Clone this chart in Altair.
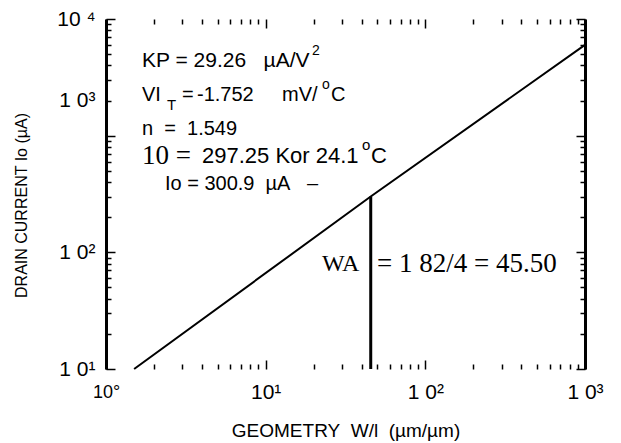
import altair as alt
import pandas as pd

NB = "\u00a0"  # non-breaking space (SVG collapses ordinary runs of spaces)

# ---------------- data ----------------
geometry = [1.5, 45.5, 1000]            # W/L (µm/µm)
drain_current = [10, 300.9, 6000]       # Io (µA)

marker_geometry = [45.5]
marker_current_low = [10]
marker_current_high = [300.9]

x_major = [1, 10, 100, 1000]
x_major_labels = ["10°", "10¹", "1 0²", "1 0³"]
y_major = [10, 100, 1000, 10000]
y_major_labels = ["1 0¹", "1 0²", "1 0³", "10 ⁴"]
x_minor = [1, 2, 3, 4, 5, 6, 7, 8, 9, 10, 20, 30, 40, 50, 60, 70, 80, 90,
           100, 200, 300, 400, 500, 600, 700, 800, 900, 1000]
y_minor = [10, 20, 30, 40, 50, 60, 70, 80, 90, 100, 200, 300, 400, 500, 600,
           700, 800, 900, 1000, 2000, 3000, 4000, 5000, 6000, 7000, 8000,
           9000, 10000]

x_title = f"GEOMETRY{NB}{NB}W/l{NB}{NB}(µm/µm)"
y_title = "DRAIN CURRENT Io (µA)"

ann_text = [f"KP = 29.26{NB}{NB}{NB}µA/V", "2",
            "VI", "T", "=", "-1.752", "mV/", "o", "C",
            f"n{NB}{NB}={NB}{NB}1.549",
            "10 =", "297.25 Kor 24.1", "o", "C",
            f"Io = 300.9{NB}{NB}µA{NB}{NB}{NB}–",
            "WA", "= 1 82/4 = 45.50"]
# anchor of each annotation in data coordinates (W/L, µA)
ann_x = [1.68, 1.68,
         1.68, 1.68, 1.68, 1.68, 1.68, 1.68, 1.68,
         1.68,
         1.68, 1.68, 1.68, 1.68,
         2.34,
         22.5, 49.8]
ann_y = [4365, 4365,
         2233, 2233, 2233, 2233, 2233, 2233, 2233,
         1140,
         670, 670, 670, 670,
         385,
         79.4, 79.4]

# ---------------- styling of annotation pieces ----------------
SANS = "Liberation Sans"
SERIF = "Liberation Serif"
ann_style = [  # (dx, dy, size, font)
    (0, 0, 21, SANS), (170, -10, 14, SANS),
    (0, 0, 20, SANS), (25, 10, 15, SANS), (40, 0, 20, SANS), (55, 0, 20, SANS),
    (140, 0, 20, SANS), (180, -10, 14, SANS), (189, 0, 20, SANS),
    (0, 0, 20, SANS),
    (0, 0, 27, SERIF), (60, 0, 22, SANS), (220, -11, 15, SANS), (229, 0, 22, SANS),
    (0, 0, 20, SANS),
    (0, 0, 24, SERIF), (0, 0, 27, SERIF),
]

W, H = 479, 350

xs = alt.Scale(type="log", domain=[1, 1000], nice=False)
ys = alt.Scale(type="log", domain=[10, 10000], nice=False)


def label_expr(values, labels):
    expr = "''"
    for v, l in reversed(list(zip(values, labels))):
        expr = f"datum.value == {v} ? '{l}' : ({expr})"
    return expr


def major_test(values):
    return "indexof([" + ",".join(str(v) for v in values) + "], datum.value) >= 0"


tick_x = {"condition": {"test": major_test(x_major), "value": 9}, "value": 5}
tick_y = {"condition": {"test": major_test(y_major), "value": 9}, "value": 5}

line_df = pd.DataFrame({"x": geometry, "y": drain_current})
marker_df = pd.DataFrame({"x": marker_geometry, "y0": marker_current_low,
                          "y1": marker_current_high})

# main line: labelled axes (bottom labels, left labels + thick left frame)
line = alt.Chart(line_df).mark_line(color="black", strokeWidth=2).encode(
    x=alt.X("x:Q", scale=xs, axis=alt.Axis(
        orient="bottom", values=x_major, labelExpr=label_expr(x_major, x_major_labels),
        ticks=False, domain=False, grid=False, labelFlush=False, labelOverlap=False,
        labelFontSize={"condition": {"test": "datum.value == 1", "value": 18}, "value": 21},
        labelBaseline="middle", labelPadding=23,
        title=x_title, titleFontSize=19, titleFontWeight="normal",
        titleBaseline="middle", titleY=61)),
    y=alt.Y("y:Q", scale=ys, axis=alt.Axis(
        orient="left", values=y_major, labelExpr=label_expr(y_major, y_major_labels),
        ticks=False, domain=True, domainWidth=3, domainColor="black", grid=False,
        labelFlush=False, labelOverlap=False, labelFontSize=21, labelPadding=11,
        labelBaseline="middle",
        labelOffset={"condition": {"test": "datum.value == 1000", "value": -35}, "value": 0},
        title=y_title, titleFontSize=16, titleFontWeight="normal",
        titleBaseline="middle", titleX=-85, titleY=186)),
)

# vertical marker: inward ticks on bottom and left edges
marker = alt.Chart(marker_df).mark_rule(color="black", strokeWidth=3).encode(
    x=alt.X("x:Q", scale=xs, axis=alt.Axis(
        orient="top", offset=-H, values=x_minor, labels=False, domain=False,
        ticks=True, tickSize=tick_x, tickWidth=1.5, tickColor="black", grid=False, title=None)),
    y=alt.Y("y0:Q", scale=ys, axis=alt.Axis(
        orient="right", offset=-W, values=y_minor, labels=False, domain=False,
        ticks=True, tickSize=tick_y, tickWidth=1.5, tickColor="black", grid=False, title=None)),
    y2="y1:Q",
)

# invisible copy of the line: inward ticks on top edge and right frame
ghost = alt.Chart(line_df).mark_point(opacity=0).encode(
    x=alt.X("x:Q", scale=xs, axis=alt.Axis(
        orient="bottom", offset=-H, values=x_minor, labels=False, domain=False,
        ticks=True, tickSize=tick_x, tickWidth=1.5, tickColor="black", grid=False, title=None)),
    y=alt.Y("y:Q", scale=ys, axis=alt.Axis(
        orient="left", offset=-W, values=y_minor, labels=False, domain=True,
        domainWidth=3, domainColor="black",
        ticks=True, tickSize=tick_y, tickWidth=1.5, tickColor="black", grid=False, title=None)),
)

texts = []
for t, xv, yv, (dx, dy, size, font) in zip(ann_text, ann_x, ann_y, ann_style):
    df = pd.DataFrame({"x": [xv], "y": [yv], "label": [t]})
    texts.append(
        alt.Chart(df).mark_text(align="left", baseline="middle", dx=dx, dy=dy,
                                fontSize=size, font=font, color="black").encode(
            x=alt.X("x:Q", scale=xs, axis=None),
            y=alt.Y("y:Q", scale=ys, axis=None),
            text="label:N",
        )
    )

chart = alt.layer(line, marker, ghost, *texts).resolve_axis(
    x="independent", y="independent"
).properties(
    width=W, height=H,
    autosize=alt.AutoSizeParams(type="none"),
    padding={"left": 106, "top": 19, "right": 36, "bottom": 74},
    background="white",
).configure_view(stroke=None).configure_axis(
    labelFont=SANS, titleFont=SANS, labelColor="black", titleColor="black",
)

chart.save("out.html", embed_options={"renderer": "svg", "actions": False})
